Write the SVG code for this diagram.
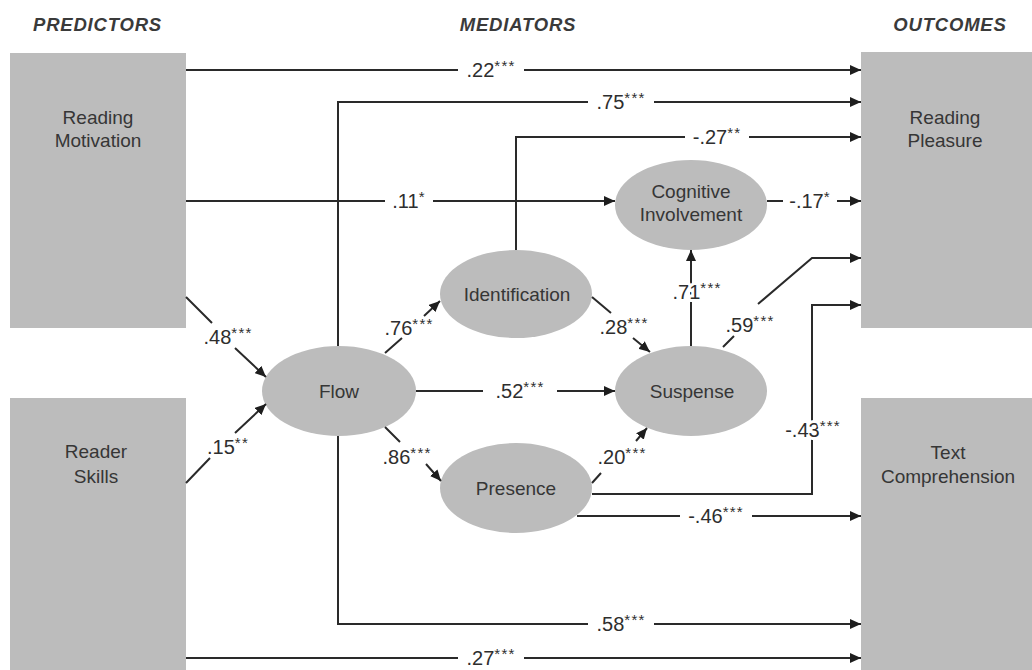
<svg xmlns="http://www.w3.org/2000/svg" width="1032" height="670" viewBox="0 0 1032 670">
<style>
.hdr{font-family:"Liberation Sans",Arial,sans-serif;font-size:18.5px;font-weight:bold;font-style:italic;fill:#3a3a3a;letter-spacing:0.8px}
.box{fill:#bcbcbc}
.ell{fill:#bcbcbc}
.nt{font-family:"Liberation Sans",Arial,sans-serif;font-size:19px;fill:#363636;text-anchor:middle}
.lbl{font-family:"Liberation Sans",Arial,sans-serif;font-size:20px;fill:#2e2e2e;text-anchor:middle}
.ast{font-size:15px;letter-spacing:1.2px}
.bg{stroke:#fff;stroke-width:6px;paint-order:stroke;stroke-linejoin:round}
.ln{fill:none;stroke:#2a2a2a;stroke-width:2}
.ar{marker-end:url(#ah)}
</style>
<defs>
<marker id="ah" markerUnits="userSpaceOnUse" markerWidth="12" markerHeight="10" refX="11" refY="5" orient="auto">
<path d="M0,0 L11,5 L0,10 z" fill="#1e1e1e"/>
</marker>
</defs>
<text class="hdr" x="33" y="31">PREDICTORS</text>
<text class="hdr" x="518" y="31" text-anchor="middle">MEDIATORS</text>
<text class="hdr" x="950" y="31" text-anchor="middle">OUTCOMES</text>

<g id="reading-motivation"><rect class="box" x="10" y="53" width="176" height="275"/><text class="nt" x="98" y="124">Reading</text><text class="nt" x="98" y="147">Motivation</text></g>
<g id="reader-skills"><rect class="box" x="10" y="398" width="176" height="280"/><text class="nt" x="96" y="458">Reader</text><text class="nt" x="96" y="483">Skills</text></g>
<g id="reading-pleasure"><rect class="box" x="861" y="52" width="180" height="276"/><text class="nt" x="945" y="124">Reading</text><text class="nt" x="945" y="147">Pleasure</text></g>
<g id="text-comprehension"><rect class="box" x="861" y="398" width="180" height="280"/><text class="nt" x="948" y="459">Text</text><text class="nt" x="948" y="483">Comprehension</text></g>
<g id="flow"><ellipse class="ell" cx="339" cy="391" rx="77" ry="45"/><text class="nt" x="339" y="398">Flow</text></g>
<g id="identification"><ellipse class="ell" cx="516" cy="294" rx="76" ry="44"/><text class="nt" x="517" y="301">Identification</text></g>
<g id="cognitive-involvement"><ellipse class="ell" cx="691" cy="205" rx="76" ry="45"/><text class="nt" x="691" y="198">Cognitive</text><text class="nt" x="691" y="221">Involvement</text></g>
<g id="suspense"><ellipse class="ell" cx="691" cy="391" rx="76" ry="45"/><text class="nt" x="692" y="398">Suspense</text></g>
<g id="presence"><ellipse class="ell" cx="516" cy="488" rx="76" ry="45"/><text class="nt" x="516" y="495">Presence</text></g>

<g id="connectors">
<path class="ln ar" d="M186 70 H458 M524 70 H861"/>
<path class="ln ar" d="M338 346 V102 H588 M654 102 H861"/>
<path class="ln ar" d="M516 250 V137 H685 M749 137 H861"/>
<path class="ln ar" d="M186 201 H385 M433 201 H615"/>
<path class="ln ar" d="M767 201 H783 M837 201 H861"/>
<path class="ln ar" d="M416 391 H483 M557 391 H615"/>
<path class="ln ar" d="M592 494 H812 V305 H861"/>
<path class="ln ar" d="M577 516 H680 M752 516 H861"/>
<path class="ln ar" d="M338 436 V624 H588 M654 624 H861"/>
<path class="ln ar" d="M186 658 H458 M524 658 H861"/>
<path class="ln ar" d="M691 346 V250"/>
<path class="ln ar" d="M723 347 L734 336 M758 304 L812 258 H861"/>
<path class="ln ar" d="M592 297 L611 313 M633 338 L650 352"/>
<path class="ln ar" d="M592 483 L601 473 M636 441 L647 428"/>
<path class="ln ar" d="M385 353 L402 338 M424 316 L440 301"/>
<path class="ln ar" d="M385 427 L400 442 M426 464 L441 481"/>
<path class="ln ar" d="M186 297 L212 323 M235 348 L266 377"/>
<path class="ln ar" d="M186 483 L210 458 M235 433 L266 404"/>

<text class="lbl" x="491" y="77">.22<tspan class="ast" dy="-6">***</tspan></text>
<text class="lbl" x="621" y="109">.75<tspan class="ast" dy="-6">***</tspan></text>
<text class="lbl" x="717" y="144">-.27<tspan class="ast" dy="-6">**</tspan></text>
<text class="lbl" x="409" y="208">.11<tspan class="ast" dy="-6">*</tspan></text>
<text class="lbl" x="810" y="208">-.17<tspan class="ast" dy="-6">*</tspan></text>
<text class="lbl bg" x="697" y="299">.71<tspan class="ast" dy="-6">***</tspan></text>
<text class="lbl" x="750" y="332">.59<tspan class="ast" dy="-6">***</tspan></text>
<text class="lbl" x="624" y="334">.28<tspan class="ast" dy="-6">***</tspan></text>
<text class="lbl" x="409" y="335">.76<tspan class="ast" dy="-6">***</tspan></text>
<text class="lbl" x="228" y="344">.48<tspan class="ast" dy="-6">***</tspan></text>
<text class="lbl" x="228" y="454">.15<tspan class="ast" dy="-6">**</tspan></text>
<text class="lbl" x="520" y="398">.52<tspan class="ast" dy="-6">***</tspan></text>
<text class="lbl" x="407" y="464">.86<tspan class="ast" dy="-6">***</tspan></text>
<text class="lbl" x="622" y="464">.20<tspan class="ast" dy="-6">***</tspan></text>
<text class="lbl bg" x="813" y="437">-.43<tspan class="ast" dy="-6">***</tspan></text>
<text class="lbl" x="716" y="523">-.46<tspan class="ast" dy="-6">***</tspan></text>
<text class="lbl" x="621" y="631">.58<tspan class="ast" dy="-6">***</tspan></text>
<text class="lbl" x="491" y="665">.27<tspan class="ast" dy="-6">***</tspan></text>
</g>
</svg>
